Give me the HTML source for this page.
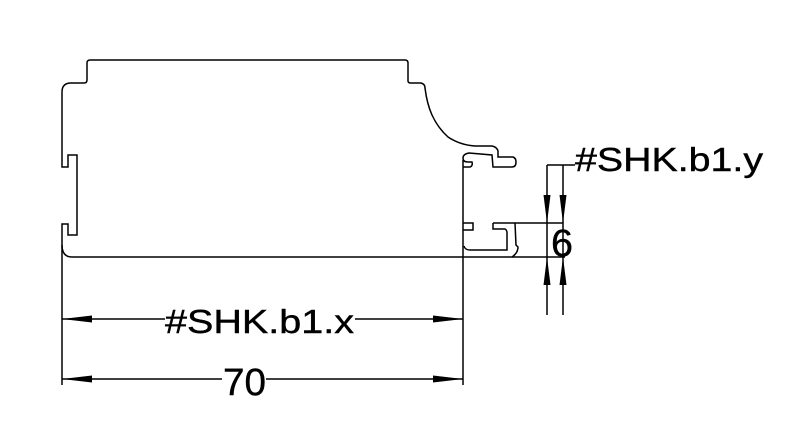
<!DOCTYPE html>
<html><head><meta charset="utf-8"><style>html,body{margin:0;padding:0;background:#fff}svg{display:block}</style></head><body>
<svg width="808" height="442" viewBox="0 0 808 442" xmlns="http://www.w3.org/2000/svg">
<g fill="none" stroke="#000" stroke-width="1.5">
<path d="M62,257 L62,224 L68,224 L68,235 L77,235 L77,155 L68,155 L68,167 L62,167 L62,92 Q62,83 71,83 L84,83 Q87,83 87,80 L87,63 Q87,60 90,60 L405,60 Q408,60 408,63 L408,81 Q408,83 411,83 L421,83 Q425,84 425,88 Q427,104 432,115 Q438,128 448,137 Q460,145 475,146 L492,146 Q497,147 498,151 L498,157 L513,157 Q516,158 516,162 Q516,167 512,167 L493,167 L492,155 L469,153 Q463,154 463,158 Q463,162 468,162 L472,162 Q473,166 470,167 L463,167"/>
<path d="M463,160 L463,385"/>
<path d="M62,245 Q62,257 72,257 L512,257 Q518,253 518,247 L516,245 L515,223"/>
<path d="M463,223 L473,223 L473,230 L463,230"/>
<path d="M493,223 L493,229 L505,229 Q507,230 507,233 L507,250 L470,250 Q465,250 464,246"/>
<path d="M493,223 L563,223"/>
<path d="M512,257 L565,257"/>
<path d="M62,257 L62,385"/>
<path d="M547,165 L575,165 M547,165 L547,315 M563,165 L563,315"/>
<path d="M62,319 L165,319 M355,319 L463,319"/>
<path d="M62,379 L222,379 M266,379 L463,379"/>
</g>
<g fill="#000">
<polygon points="62,319 92,315.5 92,322.5"/>
<polygon points="463,319 433,315.5 433,322.5"/>
<polygon points="62,379 92,375.5 92,382.5"/>
<polygon points="463,379 433,375.5 433,382.5"/>
<polygon points="547,223 543.5,195 550.5,195"/>
<polygon points="563,223 559.5,195 566.5,195"/>
<polygon points="547,257 543.5,285 550.5,285"/>
<polygon points="563,257 559.5,285 566.5,285"/>
</g>
<g font-family="Liberation Sans, Arial, sans-serif" fill="#000" stroke="#000" stroke-width="0.4">
<text x="575" y="171" font-size="33" textLength="188" lengthAdjust="spacingAndGlyphs">#SHK.b1.y</text>
<text x="165" y="333" font-size="33" textLength="189" lengthAdjust="spacingAndGlyphs">#SHK.b1.x</text>
<text x="223" y="395" font-size="38" textLength="43" lengthAdjust="spacingAndGlyphs">70</text>
<text x="551" y="256" font-size="38" textLength="22" lengthAdjust="spacingAndGlyphs">6</text>
</g>
</svg>
</body></html>
